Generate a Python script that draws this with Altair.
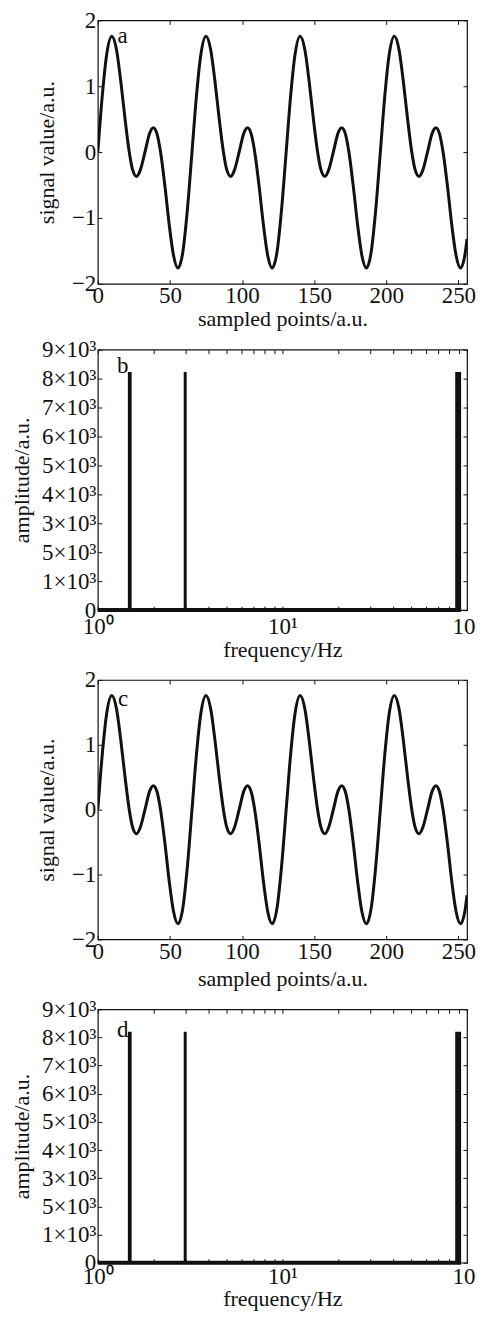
import altair as alt
import pandas as pd

# ---------------- data ----------------
# time-domain signal (panels a and c): sampled point index and value
sample_x = [
    0, 3, 6, 9.7, 13, 16, 19, 21.8, 24, 26.8, 29.5, 32.7, 36, 38.5, 41, 43.5, 46.5, 49.5, 52.5, 55.6, 59, 62,
    65.3, 68.3, 71.3, 75, 78.3, 81.3, 84.3, 87.1, 89.3, 92.1, 94.8, 98, 101.3, 103.8, 106.3, 108.8, 111.8, 114.8, 117.8, 120.9, 124.3, 127.3,
    130.6, 133.6, 136.6, 140.3, 143.6, 146.6, 149.6, 152.4, 154.6, 157.4, 160.1, 163.3, 166.6, 169.1, 171.6, 174.1, 177.1, 180.1, 183.1, 186.2, 189.6, 192.6,
    195.9, 198.9, 201.9, 205.6, 208.9, 211.9, 214.9, 217.7, 219.9, 222.7, 225.4, 228.6, 231.9, 234.4, 236.9, 239.4, 242.4, 245.4, 248.4, 251.5, 254.9, 256,
]
signal_a = [
    0, 0.83, 1.46, 1.76, 1.55, 1.06, 0.48, 0, -0.26, -0.37, -0.27, 0, 0.29, 0.37, 0.28, 0, -0.51, -1.10, -1.57, -1.76, -1.51, -0.90,
    0, 0.83, 1.46, 1.76, 1.55, 1.06, 0.48, 0, -0.26, -0.37, -0.27, 0, 0.29, 0.37, 0.28, 0, -0.51, -1.10, -1.57, -1.76, -1.51, -0.90,
    0, 0.83, 1.46, 1.76, 1.55, 1.06, 0.48, 0, -0.26, -0.37, -0.27, 0, 0.29, 0.37, 0.28, 0, -0.51, -1.10, -1.57, -1.76, -1.51, -0.90,
    0, 0.83, 1.46, 1.76, 1.55, 1.06, 0.48, 0, -0.26, -0.37, -0.27, 0, 0.29, 0.37, 0.28, 0, -0.51, -1.10, -1.57, -1.76, -1.51, -1.32,
]
signal_c = list(signal_a)

# amplitude spectra (panels b and d): spike extents in Hz and heights
spike_lo = [1.455, 2.92, 86.3]
spike_hi = [1.525, 3.03, 92.9]
spike_amp_b = [8230, 8230, 8230]
spike_amp_d = [8200, 8200, 8200]
floor_lo = [1.0]
floor_hi = [92.9]
floor_amp = [0]

# axes
sig_x_ticks = [0, 50, 100, 150, 200, 250]
sig_y_ticks = [-2, -1, 0, 1, 2]
amp_ticks = [0, 1000, 2000, 3000, 4000, 5000, 6000, 7000, 8000, 9000]
amp_labels = ["0", "1×10³", "5×10³", "3×10³", "4×10³", "5×10³", "6×10³", "7×10³", "8×10³", "9×10³"]
freq_ticks = [1, 2, 3, 4, 5, 6, 7, 8, 9, 10, 20, 30, 40, 50, 60, 70, 80, 90, 100]
freq_major = {1: "10⁰", 10: "10¹", 100: "10²"}

# panel letters (data coordinates)
letters = ["a", "b", "c", "d"]
letter_x = [13.7, 1.27, 14.0, 1.27]
letter_y = [1.76, 8420, 1.70, 8280]

# ---------------- styling ----------------
FONT = "Liberation Serif"
FS = 23
TFS = 22
TK = 4
INK = "#111111"
W = 370

amp_expr = "[" + ",".join("'" + s + "'" for s in amp_labels) + "][round(datum.value/1000)]"
freq_expr = " : ".join(f"datum.value == {k} ? '{v}'" for k, v in freq_major.items()) + " : ''"


def inner_axis(orient, values, title=None, labels=True, label_expr=None, title_pad=4, label_pad=2):
    kw = dict(orient=orient, values=values, offset=-TK, tickSize=TK, domain=False, grid=False,
              tickColor=INK, tickWidth=1, labels=labels, labelFont=FONT, labelFontSize=FS,
              labelColor=INK, labelPadding=label_pad, labelFlush=False, labelOverlap=False,
              titleFont=FONT, titleFontSize=TFS, titleFontWeight="normal", titleColor=INK,
              titlePadding=title_pad)
    kw["title"] = title if title is not None else None
    if label_expr is not None:
        kw["labelExpr"] = label_expr
    return alt.Axis(**kw)


def signal_panel(values, idx, h, xtitle_pad):
    df = pd.DataFrame({"x": sample_x, "y": values})
    xs = alt.Scale(domain=[0, 256], nice=False, zero=False)
    ys = alt.Scale(domain=[-2, 2], nice=False, zero=False)
    line = alt.Chart(df).mark_line(color=INK, strokeWidth=3, interpolate="monotone", clip=True).encode(
        x=alt.X("x:Q", scale=xs, axis=inner_axis("bottom", sig_x_ticks, "sampled points/a.u.", title_pad=xtitle_pad, label_pad=1)),
        y=alt.Y("y:Q", scale=ys, axis=inner_axis("left", sig_y_ticks, "signal value/a.u.", title_pad=13)),
    )
    mirror = alt.Chart(df).mark_point(opacity=0).encode(
        x=alt.X("x:Q", scale=xs, axis=inner_axis("top", sig_x_ticks, labels=False)),
        y=alt.Y("y:Q", scale=ys, axis=inner_axis("right", sig_y_ticks, labels=False)),
    )
    tdf = pd.DataFrame({"x": [letter_x[idx]], "y": [letter_y[idx]], "t": [letters[idx]]})
    txt = alt.Chart(tdf).mark_text(font=FONT, fontSize=FS, align="left", baseline="middle", color=INK).encode(
        x=alt.X("x:Q", scale=xs, axis=None), y=alt.Y("y:Q", scale=ys, axis=None), text="t:N")
    return alt.layer(line, mirror, txt).resolve_axis(x="independent", y="independent").properties(width=W, height=h)


def spectrum_panel(amps, idx, h, xtitle_pad, xlabel_pad):
    xs = alt.Scale(type="log", domain=[1, 100], nice=False)
    ys = alt.Scale(domain=[0, 9000], nice=False, zero=False)
    sdf = pd.DataFrame({"lo": spike_lo, "hi": spike_hi, "amp": amps, "base": [0] * len(amps)})
    fdf = pd.DataFrame({"lo": floor_lo, "hi": floor_hi, "amp": floor_amp})
    spikes = alt.Chart(sdf).mark_rect(color=INK).encode(
        x=alt.X("lo:Q", scale=xs, axis=inner_axis("bottom", freq_ticks, "frequency/Hz", label_expr=freq_expr,
                                                   title_pad=xtitle_pad, label_pad=xlabel_pad)),
        x2="hi:Q",
        y=alt.Y("amp:Q", scale=ys, axis=inner_axis("left", amp_ticks, "amplitude/a.u.", label_expr=amp_expr, title_pad=8)),
        y2="base:Q",
    )
    floor = alt.Chart(fdf).mark_rule(color=INK, strokeWidth=4).encode(
        x=alt.X("lo:Q", scale=xs, axis=None), x2="hi:Q", y=alt.Y("amp:Q", scale=ys, axis=None))
    mirror = alt.Chart(sdf).mark_point(opacity=0).encode(
        x=alt.X("lo:Q", scale=xs, axis=inner_axis("top", freq_ticks, labels=False)),
        y=alt.Y("amp:Q", scale=ys, axis=inner_axis("right", amp_ticks, labels=False)),
    )
    tdf = pd.DataFrame({"x": [letter_x[idx]], "y": [letter_y[idx]], "t": [letters[idx]]})
    txt = alt.Chart(tdf).mark_text(font=FONT, fontSize=FS, align="left", baseline="middle", color=INK).encode(
        x=alt.X("x:Q", scale=xs, axis=None), y=alt.Y("y:Q", scale=ys, axis=None), text="t:N")
    return alt.layer(spikes, floor, mirror, txt).resolve_axis(x="independent", y="independent").properties(width=W, height=h)


chart = alt.vconcat(
    signal_panel(signal_a, 0, 264, 1),
    spectrum_panel(spike_amp_b, 1, 261, 1, 5),
    signal_panel(signal_c, 2, 260, 5),
    spectrum_panel(spike_amp_d, 3, 254, 0, 3),
    spacing=7,
).properties(
    padding={"left": 2, "top": -1, "right": -7, "bottom": -1}, background="white"
).configure_view(stroke=INK, strokeWidth=1.2)

chart.save("out.html", embed_options={"renderer": "svg", "actions": False})
